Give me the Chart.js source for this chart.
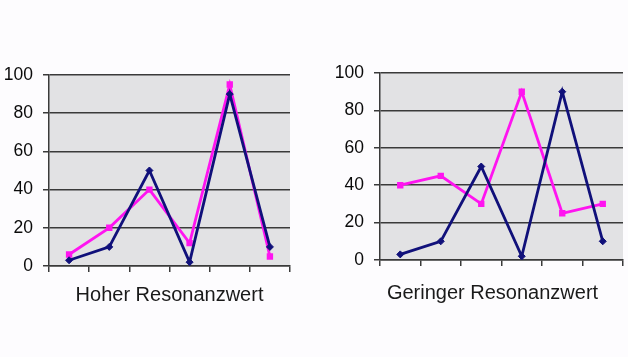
<!DOCTYPE html>
<html>
<head>
<meta charset="utf-8">
<script src="https://cdn.jsdelivr.net/npm/chart.js@4/dist/chart.umd.min.js"></script>
<style>
  html, body { margin: 0; padding: 0; background: #fdfcfe; overflow: hidden; width: 628px; height: 357px; }
  .box { position: absolute; top: 0; height: 357px; }
  #leftBox { left: 0; width: 342px; }
  #rightBox { left: 330px; width: 325px; }
</style>
</head>
<body>
<div class="box" id="leftBox"><canvas id="c1"></canvas></div>
<div class="box" id="rightBox"><canvas id="c2"></canvas></div>
<script>
const categories = ["1", "2", "3", "4", "5", "6"];
const yTicks = [0, 20, 40, 60, 80, 100];

const highBlue = [3, 10, 50, 2, 90, 10];
const highPink = [6, 20, 40, 12, 95, 5];
const lowBlue  = [3, 10, 50, 2, 90, 10];
const lowPink  = [40, 45, 30, 90, 25, 30];

const titleHigh = "Hoher Resonanzwert";
const titleLow  = "Geringer Resonanzwert";

const FONT = 'Liberation Sans, Arial, sans-serif';

const plotBg = {
  id: 'plotBg',
  beforeDraw(chart) {
    const a = chart.chartArea, ctx = chart.ctx;
    ctx.save();
    ctx.fillStyle = '#e2e2e4';
    ctx.fillRect(a.left, a.top, a.right - a.left, a.bottom - a.top);
    ctx.restore();
  }
};

// widen the y scale's label clip box to the canvas edge (labels stay right-aligned to the axis)
const widenLabelArea = {
  id: 'widenLabelArea',
  afterLayout(chart) {
    chart.scales.y.left = 0;
  }
};

function makeChart(id, blue, pink, title, cfg) {
  return new Chart(document.getElementById(id), {
    type: 'line',
    data: {
      labels: categories,
      datasets: [
        {
          data: blue,
          borderColor: '#10107a',
          backgroundColor: '#10107a',
          borderWidth: 2.8,
          pointStyle: 'rectRot',
          pointRadius: 3.5,
          pointBorderWidth: 1,
          tension: 0
        },
        {
          data: pink,
          borderColor: '#ff14f0',
          backgroundColor: '#ff14f0',
          borderWidth: 2.8,
          pointStyle: 'rect',
          pointRadius: 4.5,
          pointBorderWidth: 0,
          tension: 0
        }
      ]
    },
    plugins: [plotBg, widenLabelArea],
    options: {
      responsive: true,
      maintainAspectRatio: false,
      animation: false,
      layout: { padding: { left: cfg.padLeft, right: cfg.padRight, top: cfg.padTop, bottom: cfg.padBottom } },
      plugins: {
        legend: { display: false },
        tooltip: { enabled: false },
        title: {
          display: cfg.useChartTitle,
          position: 'bottom',
          text: title,
          color: '#1a1a1a',
          font: { family: FONT, size: 20, weight: 'normal' },
          padding: { top: cfg.titleTop, bottom: 0 }
        }
      },
      scales: {
        x: {
          offset: true,
          grid: { display: true, offset: true, drawOnChartArea: false, drawTicks: true, tickLength: 6, color: '#3a3a3a', lineWidth: 1.5 },
          border: { display: true, color: '#3a3a3a', width: 1.5 },
          ticks: { display: false },
          title: {
            display: !cfg.useChartTitle,
            text: title,
            color: '#1a1a1a',
            font: { family: FONT, size: 20, weight: 'normal' },
            padding: { top: cfg.titleTop, bottom: 0 }
          }
        },
        y: {
          min: 0, max: 100,
          afterBuildTicks: s => { s.ticks = yTicks.map(v => ({ value: v })); },
          afterFit: s => { s.width = cfg.yWidth; },
          grid: { color: '#3a3a3a', lineWidth: 1.5, drawTicks: true, tickLength: 6 },
          border: { display: true, color: '#3a3a3a', width: 1.5 },
          ticks: {
            padding: 10,
            color: '#0a0a0a',
            font: { family: FONT, size: 17.5 }
          }
        }
      }
    }
  });
}

makeChart('c1', highBlue, highPink, titleHigh, { useChartTitle: false, padLeft: 0, padRight: 52, padTop: 75, padBottom: 50, titleTop: 11, yWidth: 49 });
makeChart('c2', lowBlue, lowPink, titleLow, { useChartTitle: true, padLeft: 32, padRight: 32, padTop: 73, padBottom: 52, titleTop: 15, yWidth: 18 });
</script>
</body>
</html>
